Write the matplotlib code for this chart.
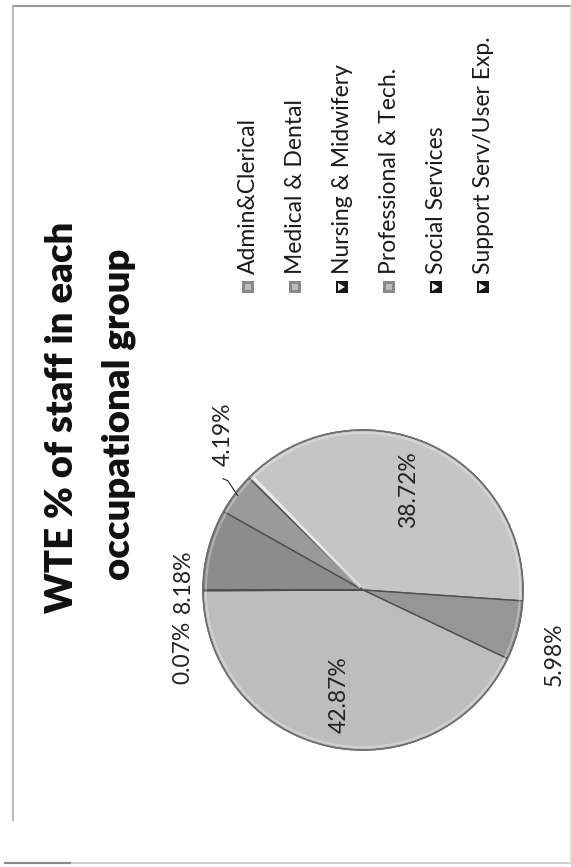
import numpy as np
import matplotlib
matplotlib.use("Agg")
import matplotlib.pyplot as plt
from matplotlib.patches import Rectangle, Polygon, Circle

# ---- data -------------------------------------------------------------
categories = ["Admin&Clerical", "Medical & Dental", "Nursing & Midwifery",
              "Professional & Tech.", "Social Services", "Support Serv/User Exp."]
wte_share = [8.18, 4.19, 38.72, 5.98, 42.87, 0.07]
title_lines = ["WTE % of staff in each", "occupational group"]

# ---- styling ----------------------------------------------------------
slice_colors = ["#8c8c8c", "#9a9a9a", "#c5c5c5", "#969696", "#bdbdbd", "#a4a4a4"]
legend_dark = [False, False, True, False, True, True]
FONT = "Lato"

W, H = 571, 867
fig = plt.figure(figsize=(W / 100, H / 100), dpi=100)
fig.patch.set_facecolor("white")

# overlay in pixel coordinates (origin top-left)
ov = fig.add_axes([0, 0, 1, 1])
ov.set_xlim(0, W)
ov.set_ylim(H, 0)
ov.axis("off")

# slide frame
ov.plot([12, W], [6, 6], color="#9a9a9a", lw=1.5, solid_capstyle="butt")
ov.plot([13, 13], [6, 820], color="#b4b4b4", lw=1.3)
ov.plot([5, W], [863, 863], color="#cfcfcf", lw=1.5)
ov.plot([5, 70], [863, 863], color="#8a8a8a", lw=1.5)
ov.plot([570, 570], [6, 863], color="#e2e2e2", lw=1.0)

# title (slide is turned on its side: text reads bottom-to-top)
for (bx, cy), line in zip([(73, 417), (130, 414)], title_lines):
    ov.text(bx, cy, line, rotation=90, rotation_mode="anchor",
            ha="center", va="baseline", fontsize=27.5, fontweight="heavy",
            family=FONT, color="#101010")

# legend
leg_base_x = [255, 302, 349, 396, 443, 490]
leg_start_y = 274
for bx, name, dark in zip(leg_base_x, categories, legend_dark):
    ov.text(bx, leg_start_y, name, rotation=90, rotation_mode="anchor",
            ha="left", va="baseline", fontsize=16.5, family=FONT, color="#1a1a1a")
    mx, my, s = bx - 13, 281, 12
    if dark:
        ov.add_patch(Rectangle((mx, my), s, s, facecolor="#151515", edgecolor="none"))
        ov.add_patch(Polygon([(mx + 2, my + 2), (mx + 2, my + s - 2), (mx + s - 3, my + s / 2)],
                             closed=True, facecolor="#f0f0f0", edgecolor="none"))
    else:
        ov.add_patch(Rectangle((mx, my), s, s, facecolor="#8a8a8a", edgecolor="none"))
        ov.add_patch(Rectangle((mx + 3, my + 3), s - 6, s - 6, facecolor="#bdbdbd", edgecolor="none"))

# ---- pie ---------------------------------------------------------------
cx, cy, R = 363, 590, 160
pad = 1.03
pax = fig.add_axes([(cx - pad * R) / W, 1 - (cy + pad * R) / H,
                    2 * pad * R / W, 2 * pad * R / H])
wedges, _ = pax.pie(wte_share, startangle=180, counterclock=False, colors=slice_colors,
                    radius=1.0,
                    wedgeprops=dict(edgecolor="#4e4e4e", linewidth=1.0))
# soft bevel: faint light inner rim and grey outline
pax.add_patch(Circle((0, 0), 0.982, fill=False, edgecolor="white", lw=1.5, alpha=0.3))
pax.add_patch(Circle((0, 0), 1.0, fill=False, edgecolor="#707070", lw=1.1))
# highlight along the leading edge of the Nursing slice
a = np.deg2rad(wedges[2].theta2 - 1.2)
pax.plot([0.03 * np.cos(a), 0.97 * np.cos(a)], [0.03 * np.sin(a), 0.97 * np.sin(a)],
         color="white", lw=2.0, alpha=0.7)
pax.set_xlim(-pad, pad)
pax.set_ylim(-pad, pad)
pax.set_aspect("auto")
pax.axis("off")

def pie_to_px(r, ang_deg):
    a = np.deg2rad(ang_deg)
    return cx + r * R * np.cos(a), cy - r * R * np.sin(a)

# label placement per slice: ('in', radius) inside, or fixed pixel centre outside
label_place = [("out", (183, 581)), ("out", (223, 434)), ("in", 0.69),
               ("out", (554, 654)), ("in", 0.67), ("out", (183, 652))]

for w, val, place in zip(wedges, wte_share, label_place):
    mid = 0.5 * (w.theta1 + w.theta2)
    if place[0] == "in":
        x, y = pie_to_px(place[1], mid)
    else:
        x, y = place[1]
    ov.text(x, y, f"{val:.2f}%", rotation=90, rotation_mode="anchor",
            ha="center", va="center", fontsize=16.5, family=FONT, color="#222222",
            zorder=5)

# leader line for the small Medical & Dental slice
mid_med = 0.5 * (wedges[1].theta1 + wedges[1].theta2)
ex, ey = pie_to_px(0.98, mid_med)
ov.plot([ex, ex - 10, 223], [ey, ey - 15, ey - 17], color="#333333", lw=0.9, zorder=5)

ov.set_zorder(3)
ov.patch.set_alpha(0)
fig.savefig("out.png", dpi=100, facecolor="white")
